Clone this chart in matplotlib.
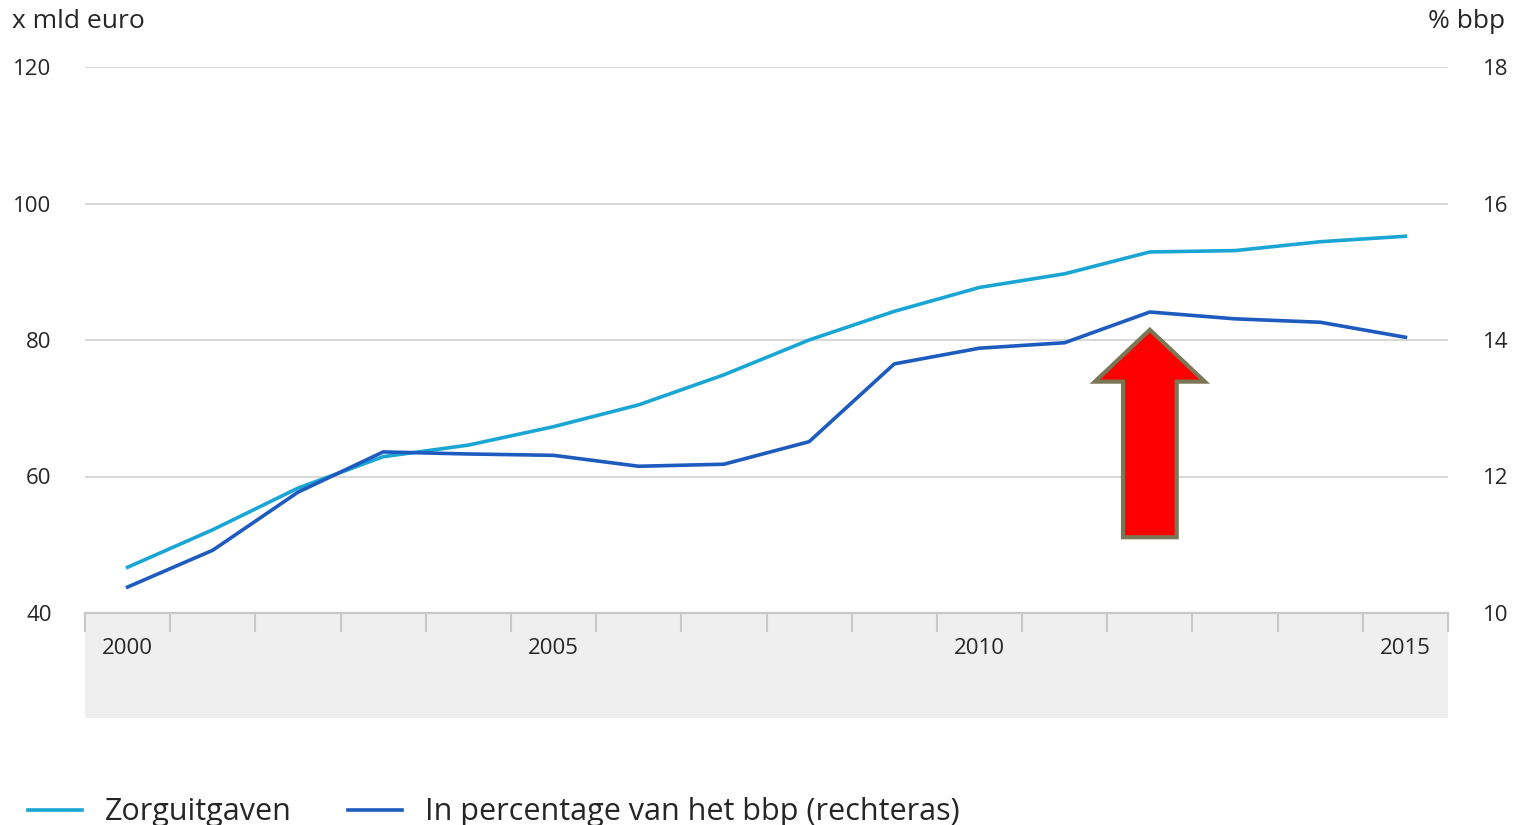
import matplotlib
matplotlib.use("Agg")
import matplotlib.pyplot as plt
from matplotlib.patches import Rectangle, FancyArrow
import numpy as np

plt.rcParams['font.family'] = ['Open Sans', 'DejaVu Sans']

years = list(range(2000, 2016))
year_labels = ['2000', '', '', '', '', '2005', '', '', '', '', '2010', '', '', '', '', '2015']

# zorguitgaven, x mld euro (left axis)
zorguitgaven = [46.7, 52.2, 58.3, 62.9, 64.6, 67.3, 70.5, 74.9,
                80.0, 84.2, 87.7, 89.7, 92.9, 93.1, 94.4, 95.2]
# in % van het bbp (right axis)
pct_bbp = [10.38, 10.92, 11.77, 12.36, 12.33, 12.31, 12.15, 12.18,
           12.51, 13.65, 13.88, 13.96, 14.41, 14.31, 14.26, 14.04]

light = '#1aa6d4'
dark = '#1d5bbf'
grid_c = '#d9d9d9'
text_c = '#262626'

fig = plt.figure(figsize=(15.2, 8.25), dpi=100)
ax = fig.add_axes([85 / 1520, 1 - 613 / 825, (1448 - 85) / 1520, (613 - 67) / 825])
ax2 = ax.twinx()

x = np.arange(len(years))
ax.plot(x, zorguitgaven, color=light, lw=2.6, label='Zorguitgaven', zorder=3)
ax2.plot(x, pct_bbp, color=dark, lw=2.6, label='In percentage van het bbp (rechteras)', zorder=3)

ax.set_xlim(-0.5, len(years) - 0.5)
ax.set_ylim(40, 120)
ax2.set_ylim(10, 18)
ax.set_yticks([40, 60, 80, 100, 120])
ax2.set_yticks([10, 12, 14, 16, 18])

for a in (ax, ax2):
    for s in ('top', 'left', 'right'):
        a.spines[s].set_visible(False)
    a.spines['bottom'].set_color('#c8c8c8')
    a.spines['bottom'].set_linewidth(1.5)
    a.tick_params(axis='y', length=0, labelsize=16, labelcolor=text_c)

ax.tick_params(axis='y', pad=24)
ax2.tick_params(axis='y', pad=25)
ax.yaxis.grid(True, color=grid_c, lw=1.5)
ax.set_axisbelow(True)

ax.set_xticks(x)
ax.set_xticklabels(year_labels)
ax.set_xticks(np.arange(-0.5, len(years)), minor=True)
ax.tick_params(axis='x', which='major', length=0, pad=18, labelsize=16, labelcolor=text_c)
ax.tick_params(axis='x', which='minor', length=14, width=1.5, color='#c8c8c8', direction='out')

# grey band under the x axis
band = Rectangle((0, -(718 - 613) / 546), 1, (718 - 613) / 546, transform=ax.transAxes,
                 facecolor='#efefef', edgecolor='none', clip_on=False, zorder=-1)
ax.add_patch(band)

# red arrow pointing at 2012
arrow = FancyArrow(12, 51.1, 0, 30.4, width=0.63, head_width=1.29, head_length=7.6,
                   length_includes_head=True, facecolor='#ff0000', edgecolor='#7a7656',
                   linewidth=3, zorder=5)
ax.add_patch(arrow)

fig.text(12 / 1520, 1 - 22 / 825, 'x mld euro', fontsize=19, color=text_c, ha='left', va='center')
fig.text(1505 / 1520, 1 - 22 / 825, '% bbp', fontsize=19, color=text_c, ha='right', va='center')

h1, l1 = ax.get_legend_handles_labels()
h2, l2 = ax2.get_legend_handles_labels()
fig.legend(h1 + h2, l1 + l2, loc='lower left', bbox_to_anchor=(0.0, -0.036), ncol=2,
           frameon=False, fontsize=22, handlelength=1.77, handletextpad=0.75,
           columnspacing=1.86, labelcolor=text_c)

fig.savefig('out.png', dpi=100)
